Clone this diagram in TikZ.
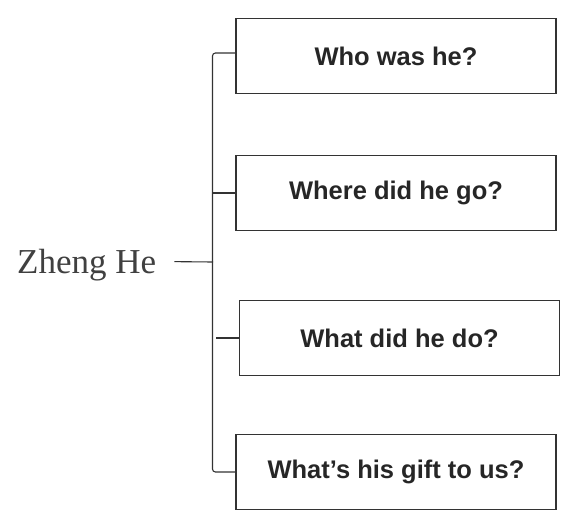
\documentclass[tikz,border=0pt]{standalone}
\usepackage{fontspec}
\setmainfont{Liberation Serif}
\newfontfamily\qfont{Liberation Sans}
\usetikzlibrary{positioning}

\begin{document}
\begin{tikzpicture}[x=1pt,y=-1pt,
  qbox/.style={draw=black!80, line width=1.1pt, minimum width=320pt, minimum height=75pt,
    font=\qfont\bfseries\fontsize{25.5}{29}\selectfont, text=black!85},
  link/.style={draw=black!80, line width=1.1pt}]
\useasboundingbox (0,0) rectangle (569,524);
% the four questions
\node[qbox] (who) at (396,56) {Who was he?};
\node[qbox] (where) at (396,193) {Where did he go?};
\node[qbox] (did) at (399.5,338) {What did he do?};
\node[qbox] (gift) at (396,472) {What’s his gift to us?};
% topic
\node[anchor=base west, inner sep=0pt, text=black!75, font=\fontsize{35}{40}\selectfont] (zh) at (17,273) {Zheng He};
\coordinate (spine) at (213,262);
% bracket
\draw[link, rounded corners=3pt] ([yshift=3pt]who.west) -- ++(-23,0) |- (gift.west);
\draw[link] (where.west) -- (where.west -| spine);
\draw[link] (did.west) -- ++(-23,0);
\draw[link] ([xshift=18pt,yshift=3pt]zh.east) -- (spine);
\end{tikzpicture}
\end{document}
